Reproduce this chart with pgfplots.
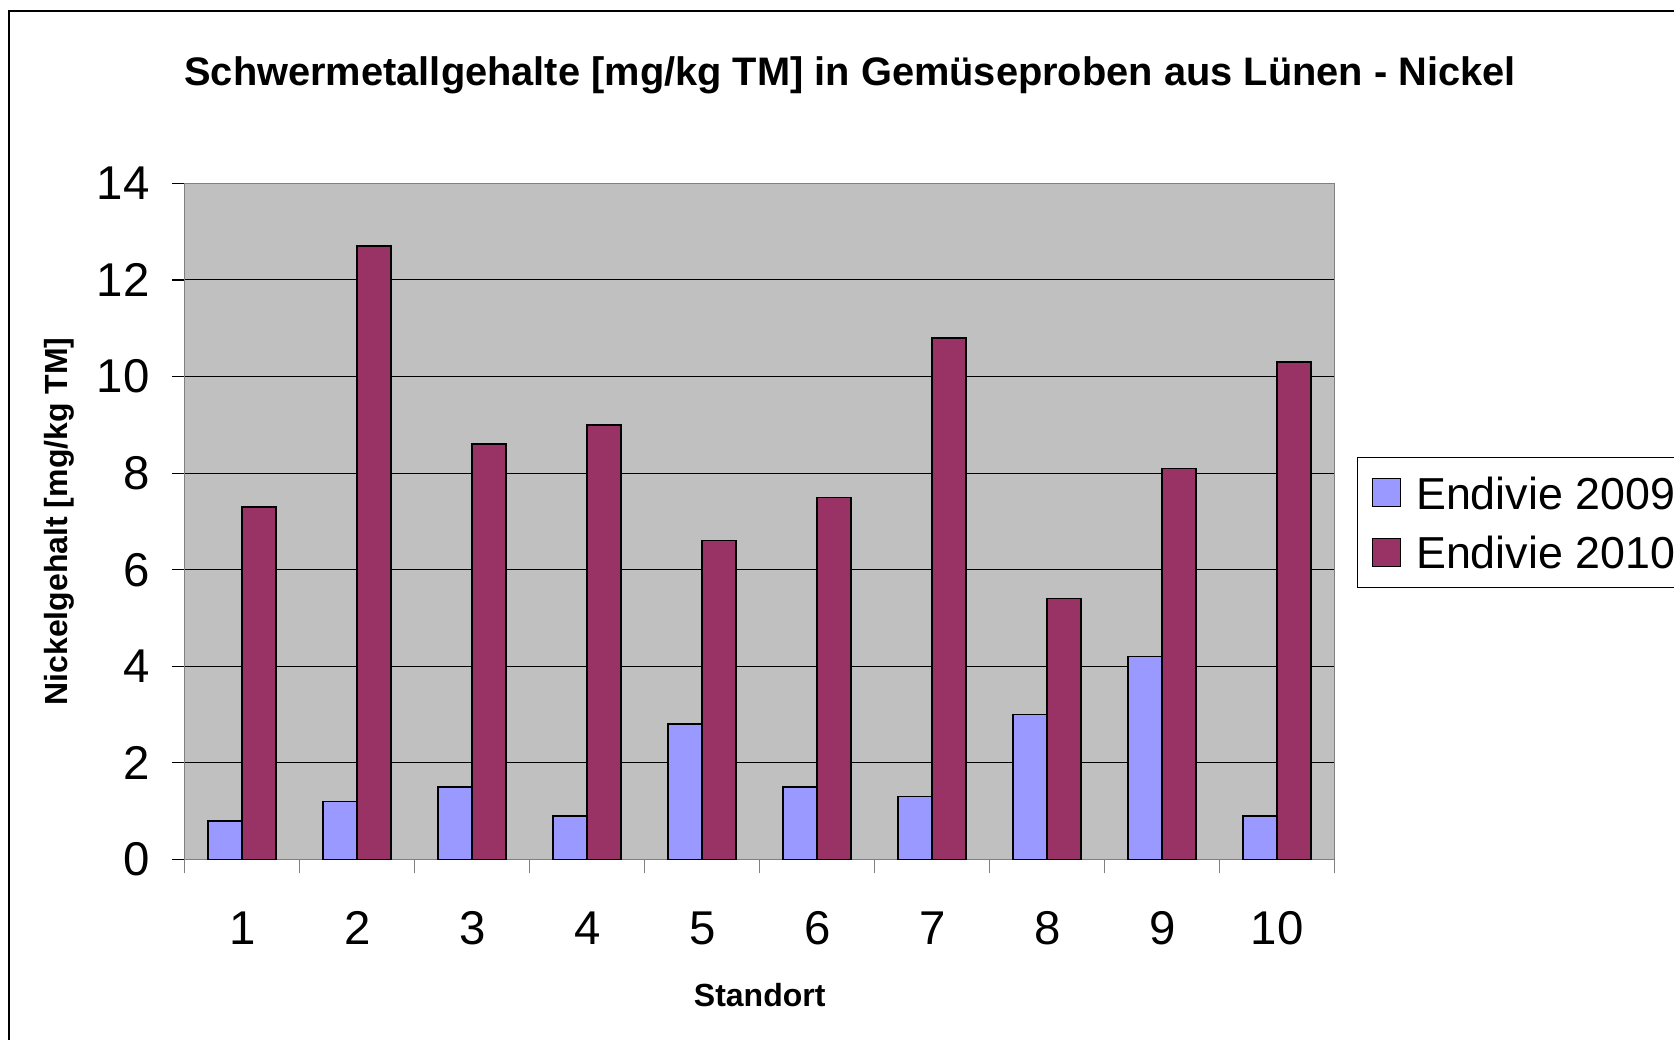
\documentclass[border=0pt]{standalone}
\usepackage{pgfplots}
\pgfplotsset{compat=1.18}
\usepackage{fontspec}
\setmainfont{Liberation Sans}
\definecolor{c09}{HTML}{9999FF}
\definecolor{c10}{HTML}{993366}
\definecolor{plotbg}{HTML}{C0C0C0}
\begin{document}
\begin{tikzpicture}
\path[use as bounding box] (0,0) rectangle (837pt,519.5pt);
\draw[line width=0.6pt] (4.5pt,-10pt) |- (900pt,514pt);
\begin{axis}[
  at={(92.35pt,89.8pt)}, anchor=south west,
  scale only axis, width=575pt, height=338pt,
  xmin=0.5, xmax=10.5, ymin=0, ymax=14,
  ytick={0,2,...,14},
  xtick={1,...,10},
  minor xtick={0.5,1.5,...,10.5},
  xtick pos=bottom, ytick pos=left,
  tick align=outside,
  every major x tick/.append style={draw=none},
  every minor x tick/.append style={draw=gray, line width=0.6pt},
  every major y tick/.append style={draw=black, line width=0.6pt},
  minor tick length=7pt,
  major tick length=6.5pt,
  ymajorgrids, grid style={black, line width=0.5pt},
  axis line style={gray, line width=0.6pt},
  axis background/.style={fill=plotbg},
  ybar=0pt, bar width=17pt,
  every axis plot/.append style={draw=black, line width=0.75pt},
  ticklabel style={font=\fontsize{23.7}{28}\selectfont},
  xticklabel style={yshift=-16pt},
  yticklabel style={xshift=-7.5pt},
  /pgf/number format/assume math mode=true,
  ylabel={Nickelgehalt [mg/kg TM]}, xlabel={Standort},
  label style={font=\bfseries\fontsize{16}{19}\selectfont},
  ylabel style={at={(-0.1093,0.5)}, anchor=center},
  xlabel style={at={(0.5,-0.2006)}, anchor=center},
  title={Schwermetallgehalte [mg/kg TM] in Gemüseproben aus Lünen - Nickel},
  title style={at={(0.5786,1.1515)}, anchor=base, yshift=-8.5pt, font=\bfseries\fontsize{19.9}{24}\selectfont},
  legend style={at={(1.0194,0.5953)}, anchor=north west, draw=black, line width=0.6pt, fill=white,
    font=\fontsize{22.4}{27}\selectfont, row sep=9.5pt, inner xsep=6pt, inner ysep=7.5pt,
    nodes={text depth=0pt}},
  legend cell align=left,
  legend image code/.code={\draw[#1,draw=black,line width=0.6pt] (1pt,-7pt) rectangle (15pt,7pt); \path (0pt,0pt) (20.5pt,0pt);},
]
\addplot[fill=c09] coordinates {(1,0.8) (2,1.2) (3,1.5) (4,0.9) (5,2.8) (6,1.5) (7,1.3) (8,3.0) (9,4.2) (10,0.9)};
\addplot[fill=c10] coordinates {(1,7.3) (2,12.7) (3,8.6) (4,9.0) (5,6.6) (6,7.5) (7,10.8) (8,5.4) (9,8.1) (10,10.3)};
\legend{Endivie 2009, Endivie 2010}
\end{axis}
\end{tikzpicture}
\end{document}
